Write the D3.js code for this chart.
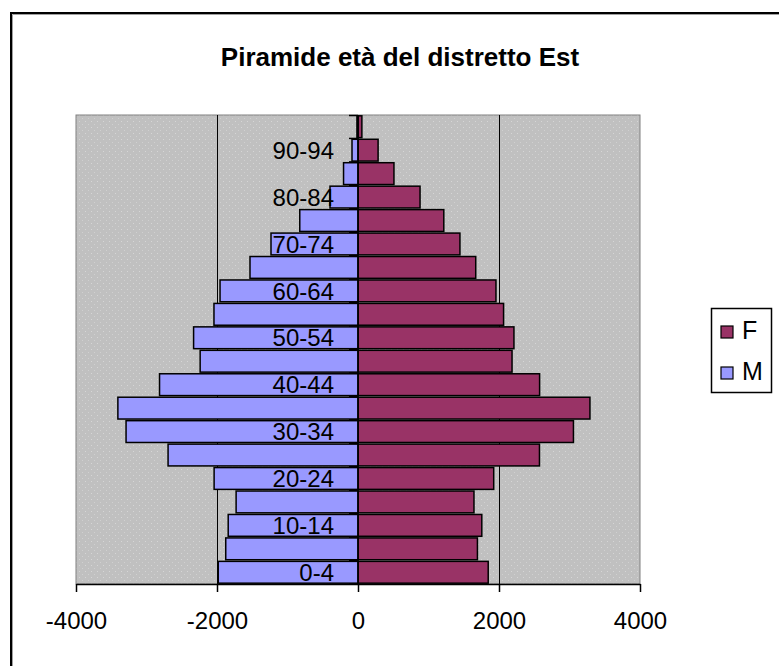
<!DOCTYPE html>
<html>
<head>
<meta charset="utf-8">
<script src="https://cdn.jsdelivr.net/npm/d3@7"></script>
<style>
  body { margin: 0; background: #fff; }
  text { font-family: "Liberation Sans", Arial, sans-serif; fill: #000; }
</style>
</head>
<body>
<svg id="chart" width="779" height="666"></svg>
<script>
// --------------------------------------------------
// Data
// --------------------------------------------------
const ageGroups = ["0-4", "5-9", "10-14", "15-19", "20-24", "25-29", "30-34", "35-39", "40-44", "45-49",
                   "50-54", "55-59", "60-64", "65-69", "70-74", "75-79", "80-84", "85-89", "90-94", "95+"];
// M shown on the negative side
const maschi = [-1982, -1876, -1841, -1729, -2041, -2694, -3290, -3406, -2815, -2239,
                -2332, -2043, -1957, -1532, -1234, -826, -397, -205, -85, -15];
const femmine = [1847, 1694, 1756, 1645, 1925, 2574, 3056, 3290, 2576, 2185,
                 2212, 2065, 1957, 1670, 1446, 1217, 880, 510, 285, 55];
const xTicks = [-4000, -2000, 0, 2000, 4000];
const gridValues = [-2000, 2000];
const shownAgeLabels = ["0-4", "10-14", "20-24", "30-34", "40-44", "50-54", "60-64", "70-74", "80-84", "90-94"];
const series = [
  { name: "F", values: femmine, color: "#993366" },
  { name: "M", values: maschi, color: "#9999ff" }
];

const svg = d3.select("#chart");

// plot area
const plot = { left: 76, right: 640, top: 115, bottom: 584 };

const x = d3.scaleLinear().domain([-4000, 4000]).range([plot.left, plot.right]);
const y = d3.scaleBand()
  .domain(ageGroups)
  .range([plot.bottom, plot.top])
  .paddingInner(0.07)
  .paddingOuter(0.035);

// --------------------------------------------------
// Chart frame (cropped at right / bottom)
// --------------------------------------------------
svg.append("rect")
  .attr("x", 11).attr("y", 13)
  .attr("width", 820).attr("height", 700)
  .style("fill", "none").style("stroke", "#000").style("stroke-width", 2);
svg.append("path")
  .attr("d", "M12.5,700V14.5H800")
  .style("fill", "none").style("stroke", "#a0a0a0").style("stroke-width", 1);

// title
svg.append("text")
  .attr("x", 400).attr("y", 66)
  .attr("text-anchor", "middle")
  .style("font-size", "26px").style("font-weight", "bold")
  .text("Piramide età del distretto Est");

// --------------------------------------------------
// Plot background with speckle pattern
// --------------------------------------------------
const defs = svg.append("defs");
const pat = defs.append("pattern")
  .attr("id", "speckle").attr("patternUnits", "userSpaceOnUse")
  .attr("width", 6).attr("height", 6);
pat.append("rect").attr("width", 6).attr("height", 6).style("fill", "#c0c0c0");
pat.append("rect").attr("x", 1).attr("y", 1).attr("width", 1).attr("height", 1).style("fill", "#d6d6d6");
pat.append("rect").attr("x", 4).attr("y", 4).attr("width", 1).attr("height", 1).style("fill", "#d0d0d0");

svg.append("rect")
  .attr("x", plot.left).attr("y", plot.top)
  .attr("width", plot.right - plot.left).attr("height", plot.bottom - plot.top)
  .style("fill", "url(#speckle)")
  .style("stroke", "#808080").style("stroke-width", 1);

// gridlines
svg.selectAll("line.grid")
  .data(gridValues)
  .enter().append("line")
  .attr("class", "grid")
  .attr("x1", d => Math.round(x(d)) + 0.5).attr("x2", d => Math.round(x(d)) + 0.5)
  .attr("y1", plot.top).attr("y2", plot.bottom)
  .style("stroke", "#000").style("stroke-width", 1);

// category tick marks at the zero axis
svg.selectAll("line.ctick")
  .data(ageGroups)
  .enter().append("line")
  .attr("class", "ctick")
  .attr("x1", x(0) - 9).attr("x2", x(0))
  .attr("y1", d => y(d) + y.bandwidth() + y.step() * y.paddingInner() / 2)
  .attr("y2", d => y(d) + y.bandwidth() + y.step() * y.paddingInner() / 2)
  .style("stroke", "#000").style("stroke-width", 1.5);
svg.append("line")
  .attr("x1", x(0) - 9).attr("x2", x(0))
  .attr("y1", plot.top + 0.5).attr("y2", plot.top + 0.5)
  .style("stroke", "#000").style("stroke-width", 1.5);

// --------------------------------------------------
// Bars
// --------------------------------------------------
series.forEach(s => {
  svg.append("g")
    .selectAll("rect")
    .data(ageGroups.map((a, i) => ({ age: a, value: s.values[i] })))
    .enter().append("rect")
    .attr("x", d => x(Math.min(0, d.value)))
    .attr("y", d => y(d.age))
    .attr("width", d => Math.abs(x(d.value) - x(0)))
    .attr("height", y.bandwidth())
    .style("fill", s.color)
    .style("stroke", "#000")
    .style("stroke-width", 1.5);
});

// zero axis
svg.append("line")
  .attr("x1", x(0)).attr("x2", x(0))
  .attr("y1", plot.top).attr("y2", plot.bottom)
  .style("stroke", "#000").style("stroke-width", 1.5);

// category labels
svg.selectAll("text.age")
  .data(shownAgeLabels)
  .enter().append("text")
  .attr("class", "age")
  .attr("x", x(0) - 24)
  .attr("y", d => y(d) + y.bandwidth() / 2)
  .attr("dy", "0.36em")
  .attr("text-anchor", "end")
  .style("font-size", "24px")
  .text(d => d);

// --------------------------------------------------
// X axis (plain hyphen for negatives, like the original)
// --------------------------------------------------
const xAxis = svg.append("g")
  .attr("transform", `translate(0,${plot.bottom})`)
  .call(d3.axisBottom(x).tickValues(xTicks).tickSize(8).tickSizeOuter(0).tickPadding(20).tickFormat(d => String(d)));
xAxis.select(".domain").style("stroke", "#000").style("stroke-width", 1.5);
xAxis.selectAll(".tick line").style("stroke", "#000").style("stroke-width", 1.5);
xAxis.selectAll(".tick text")
  .style("font-size", "24px")
  .style("font-family", "'Liberation Sans', Arial, sans-serif")
  .style("fill", "#000");

// --------------------------------------------------
// Legend
// --------------------------------------------------
const legend = svg.append("g");
legend.append("rect")
  .attr("x", 711.5).attr("y", 308.5)
  .attr("width", 60).attr("height", 84)
  .style("fill", "#fff").style("stroke", "#000").style("stroke-width", 1.5);
const items = legend.selectAll("g.item")
  .data(series)
  .enter().append("g")
  .attr("class", "item")
  .attr("transform", (d, i) => `translate(721,${326 + i * 41})`);
items.append("rect")
  .attr("width", 12).attr("height", 12)
  .style("fill", d => d.color)
  .style("stroke", "#000").style("stroke-width", 1.2);
items.append("text")
  .attr("x", 21).attr("y", 12.5)
  .style("font-size", "25px")
  .text(d => d.name);
</script>
</body>
</html>
